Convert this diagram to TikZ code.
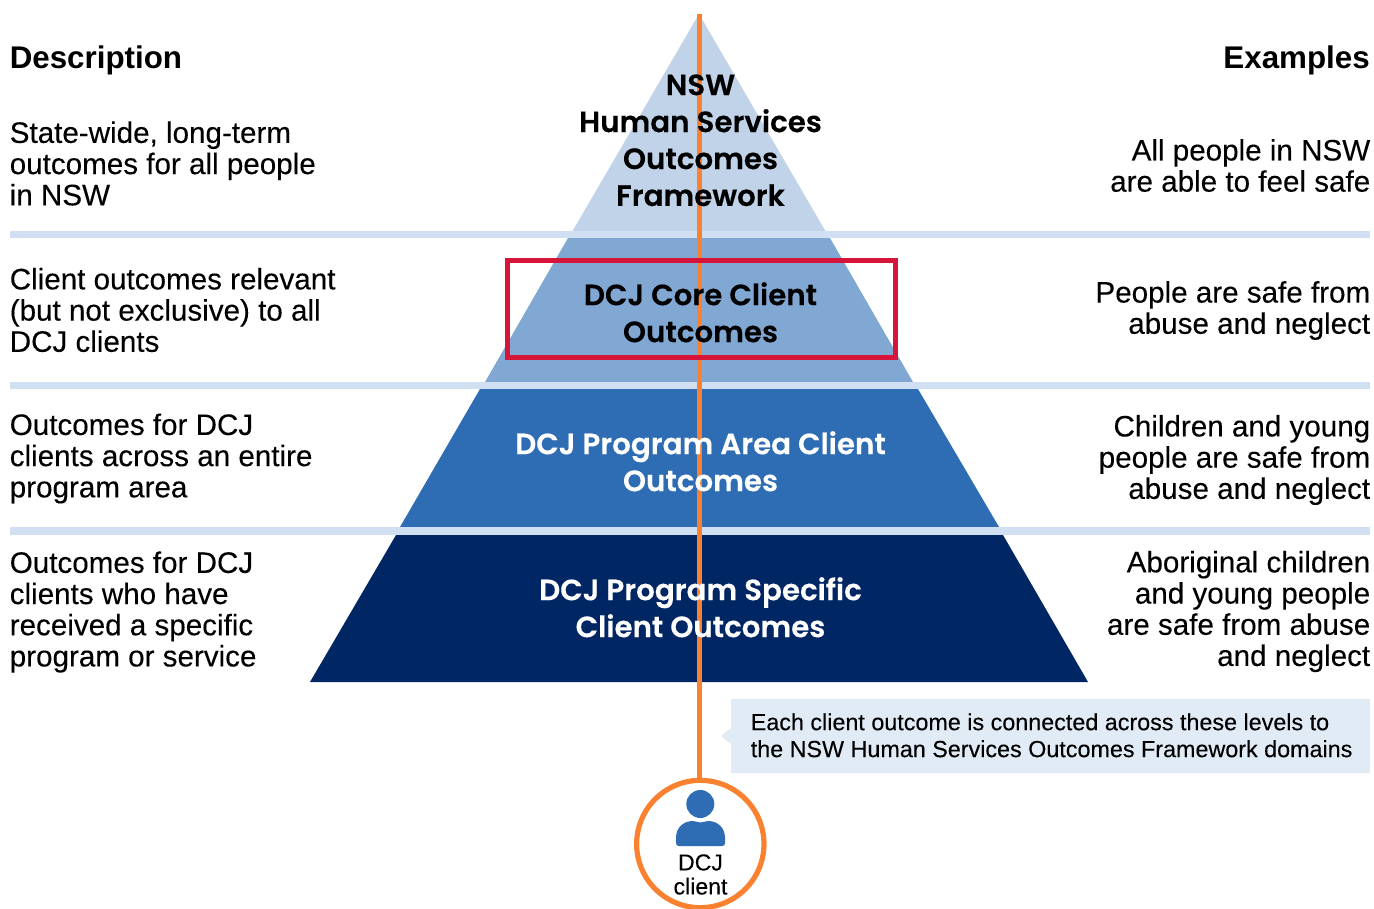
\documentclass[tikz,border=0pt]{standalone}
\usepackage{fontspec}
\setmainfont{Liberation Sans}[FakeBold=0.18]
\newfontfamily\headfont{Liberation Sans Bold}
\newfontfamily\pyrfont{Poppins SemiBold}[FakeBold=0.25]
\definecolor{lay1}{HTML}{C0D3E9}
\definecolor{lay2}{HTML}{81A7D3}
\definecolor{lay3}{HTML}{2E6DB4}
\definecolor{lay4}{HTML}{002664}
\definecolor{band}{HTML}{D0DFF1}
\definecolor{callbg}{HTML}{E1EBF6}
\definecolor{orangeline}{HTML}{FA812F}
\definecolor{redbox}{HTML}{D7153A}
\tikzset{
  desc/.style={anchor=west,align=left,font=\fontsize{22.2}{23.4}\selectfont,inner sep=0pt,text=black},
  exam/.style={anchor=east,align=right,font=\fontsize{22.2}{23.4}\selectfont,inner sep=0pt,text=black},
  head/.style={font=\headfont\fontsize{23.5}{26}\selectfont,inner sep=0pt},
  pyr/.style={align=center,font=\pyrfont\fontsize{22}{27.7}\selectfont,inner sep=0pt},
  bandline/.style={fill=band,draw=none},
}
\begin{document}
\begin{tikzpicture}[x=0.75pt,y=-0.75pt]
\useasboundingbox (0,0) rectangle (1374,909);
% pyramid layers
\fill[lay1] (699,14) -- (572,232) -- (826,232) -- cycle;
\fill[lay2] (568,238) -- (830,238) -- (913,382) -- (485,382) -- cycle;
\fill[lay3] (480,389) -- (918,389) -- (999,527) -- (400,527) -- cycle;
\fill[lay4] (396,535) -- (1003,535) -- (1088,682) -- (310,682) -- cycle;
% bands
\fill[bandline] (10,231) rectangle (1370,238);
\fill[bandline] (10,382) rectangle (1370,389);
\fill[bandline] (10,527) rectangle (1370,535);
% callout
\fill[callbg] (731,699) -- (1370,699) -- (1370,773) -- (731,773) -- (731,744) -- (721,736) -- (731,728) -- cycle;
% connector
\coordinate (apex) at (699.5,14);
\node[circle,draw=orangeline,line width=3.9pt,minimum size=95.5pt,inner sep=0pt,fill=white] (client) at (700.3,844) {};
\draw[orangeline,line width=3.9pt] (apex) -- (apex |- client.north);
% red box
\draw[redbox,line width=3.75pt] (507.5,260.5) rectangle (895.5,357);
% person
\fill[lay3] (700.3,804) circle (14);
\fill[lay3] (679,846) .. controls (677,846) and (676,845) .. (676,843) -- (676,838) .. controls (676,827) and (684,821) .. (693,821) .. controls (696,821) and (697,822.5) .. (700.5,822.5) .. controls (704,822.5) and (705,821) .. (708,821) .. controls (717,821) and (725,827) .. (725,838) -- (725,843) .. controls (725,845) and (724,846) .. (722,846) -- cycle;
\node[align=center,inner sep=0pt,font=\fontsize{17.3}{18}\selectfont] (clientlabel) at (700.5,874.5) {DCJ\\client};
% pyramid text
\node[pyr] (t1) at (700.5,140.3) {NSW\\Human Services\\Outcomes\\Framework};
\node[pyr] (t2) at (700.5,312.3) {DCJ Core Client\\Outcomes};
\node[pyr,text=white] (t3) at (700.5,461.3) {DCJ Program Area Client\\Outcomes};
\node[pyr,text=white] (t4) at (700.5,607.3) {DCJ Program Specific\\Client Outcomes};
% headings
\node[head,anchor=west] (dh) at (9.5,60.5) {Description};
\node[head,anchor=east] (eh) at (1370,60.5) {Examples};
% left
\node[desc] (d1) at (9.5,163.5) {State-wide, long-term\\outcomes for all people\\in NSW};
\node[desc] (d2) at (9.5,310) {Client outcomes relevant\\(but not exclusive) to all\\DCJ clients};
\node[desc] (d3) at (9.5,458.5) {Outcomes for DCJ\\clients across an entire\\program area};
\node[desc] (d4) at (9.5,612) {Outcomes for DCJ\\clients who have\\received a specific\\program or service};
% right
\node[exam] (e1) at (1370.5,165.5) {All people in NSW\\are able to feel safe};
\node[exam] (e2) at (1370.5,310.5) {People are safe from\\abuse and neglect};
\node[exam] (e3) at (1370.5,460) {Children and young\\people are safe from\\abuse and neglect};
\node[exam] (e4) at (1370.5,611.5) {Aboriginal children\\and young people\\are safe from abuse\\and neglect};
% callout text
\node[anchor=west,align=left,inner sep=0pt,font=\fontsize{17.5}{20.2}\selectfont] (ct) at (750.5,735.3) {Each client outcome is connected across these levels to\\the NSW Human Services Outcomes Framework domains};
\end{tikzpicture}
\end{document}
